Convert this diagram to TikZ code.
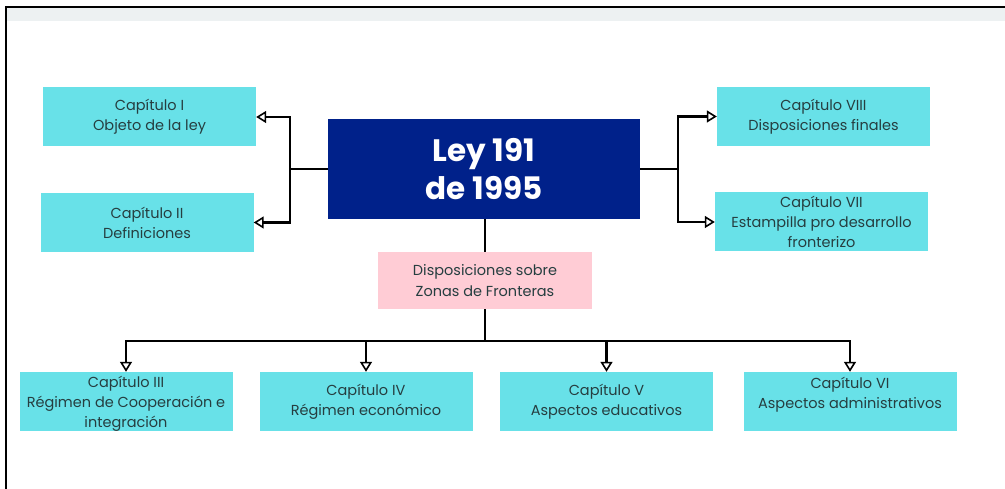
\documentclass[tikz,border=0pt]{standalone}
\usepackage{fontspec}
\setmainfont{Poppins}
\usetikzlibrary{arrows.meta}
\definecolor{cyanbox}{RGB}{104,225,232}
\definecolor{navy}{RGB}{0,33,138}
\definecolor{pinkbox}{RGB}{255,204,213}
\definecolor{txt}{RGB}{38,62,64}
\definecolor{band}{RGB}{237,241,242}
\tikzset{
  chap/.style={fill=cyanbox, text=txt, minimum width=213pt, minimum height=59pt, inner sep=0pt, align=center, font=\fontsize{14.5}{20}\selectfont},
  link/.style={draw=black, line width=2.4pt},
  arr/.style={link, -{Triangle[open, length=10pt, width=12pt, line width=1.6pt]}},
}
\begin{document}
\begin{tikzpicture}[x=1pt,y=-1pt]
\useasboundingbox (0,0) rectangle (1005,489);
\fill[white] (0,0) rectangle (1005,489);
\fill[band] (7,8) rectangle (1005,21);
\draw[line width=2pt] (6,489) -- (6,7) -- (1005,7);

\node[fill=navy, text=white, minimum width=312pt, minimum height=100pt, inner sep=0pt, align=center, font=\fontsize{31}{38}\selectfont\bfseries] (ley) at (484,169) {Ley 191\\de 1995};
\node[fill=pinkbox, text=txt, minimum width=214pt, minimum height=57pt, inner sep=0pt, align=center, font=\fontsize{14.5}{21}\selectfont] (zf) at (485,280.5) {Disposiciones sobre\\Zonas de Fronteras};

\node[chap] (c1) at (149.5,117) {Capítulo I\\Objeto de la ley};
\node[chap] (c2) at (147,222.5) {Capítulo II\\Definiciones};
\node[chap] (c8) at (823.5,116.5) {Capítulo VIII\\Disposiciones finales};
\node[chap] (c7) at (821.5,222) {Capítulo VII\\Estampilla pro desarrollo\\fronterizo};
\node[chap, text depth=-2pt] (c3) at (126,401.5) {Capítulo III\\Régimen de Cooperación e\\integración};
\node[chap] (c4) at (366,401.5) {Capítulo IV\\Régimen económico};
\node[chap] (c5) at (606.5,401.5) {Capítulo V\\Aspectos educativos};
\node[chap, text depth=18pt] (c6) at (850,401.5) {Capítulo VI\\Aspectos administrativos};

\coordinate (lb) at (290,169);
\coordinate (rb) at (678,169);
\coordinate (bus) at (485,341);

\draw[link] (ley.west) -- (lb);
\draw[arr] (lb) |- (c1.east);
\draw[arr] (lb) |- (c2.east);
\draw[link] (ley.east) -- (rb);
\draw[arr] (rb) |- (c8.west);
\draw[arr] (rb) |- (c7.west);
\draw[link] (ley.south -| zf.north) -- (zf.north);
\draw[link] (zf.south) -- (bus);
\draw[arr] (bus) -| (c3.north);
\draw[arr] (bus) -| (c4.north);
\draw[arr] (bus) -| (c5.north);
\draw[arr] (bus) -| (c6.north);
\end{tikzpicture}
\end{document}
